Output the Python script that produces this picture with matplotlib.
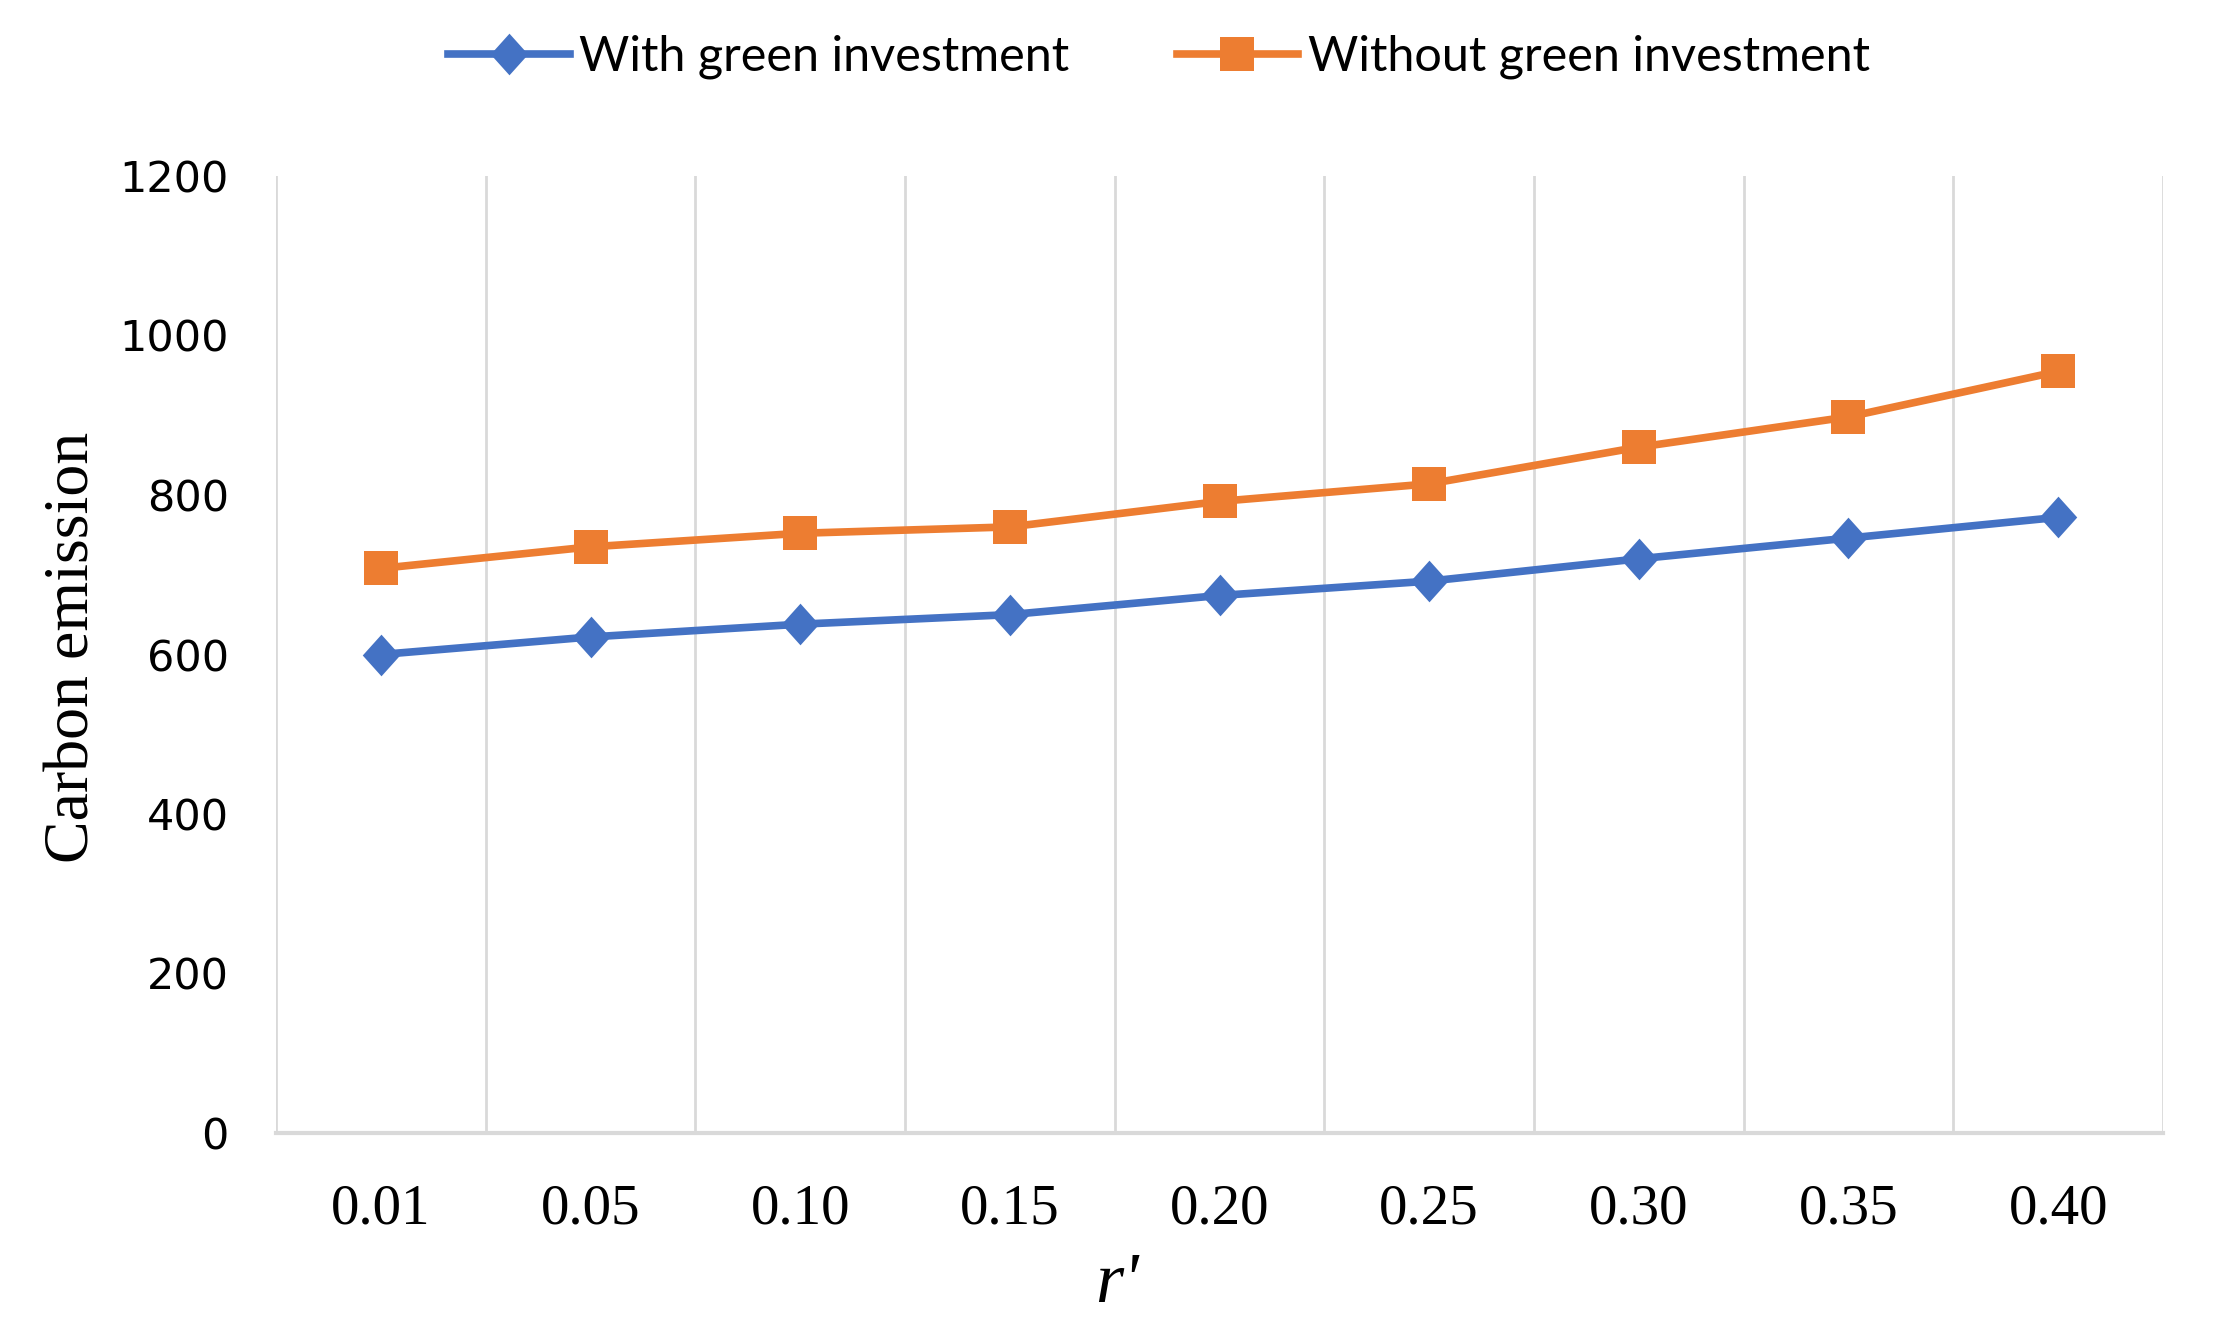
import numpy as np
import matplotlib.pyplot as plt

# data
r_labels = ["0.01", "0.05", "0.10", "0.15", "0.20", "0.25", "0.30", "0.35", "0.40"]
with_green = [600, 622, 638, 650, 674, 692, 720, 746, 772]
without_green = [708, 735, 752, 760, 792, 814, 860, 898, 955]
y_ticks = [0, 200, 400, 600, 800, 1000, 1200]

blue = "#4472C4"
orange = "#ED7D31"
grid_col = "#D9D9D9"

W, H = 2221, 1332
fig = plt.figure(figsize=(W / 100, H / 100), dpi=100)
ax = fig.add_axes([276 / W, 1 - 1133 / H, (2163 - 276) / W, (1133 - 176) / H])

x = np.arange(len(r_labels))
diamond = [(0, 1), (0.9, 0), (0, -1), (-0.9, 0), (0, 1)]

ax.plot(x, with_green, color=blue, lw=5.5, marker=diamond, ms=30, mew=0,
        label="With green investment", zorder=3)
ax.plot(x, without_green, color=orange, lw=5.5, marker="s", ms=24, mew=0,
        label="Without green investment", zorder=3)

# vertical gridlines between categories
ax.set_xlim(-0.5, len(r_labels) - 0.5)
ax.set_ylim(0, 1200)
for gx in np.arange(-0.5, len(r_labels), 1.0):
    ax.axvline(gx, color=grid_col, lw=2, zorder=1)

for s in ["top", "left", "right"]:
    ax.spines[s].set_visible(False)
ax.spines["bottom"].set_color(grid_col)
ax.spines["bottom"].set_linewidth(3)

ax.set_xticks(x)
ax.set_xticklabels(r_labels, fontfamily="Liberation Serif", fontsize=41)
ax.set_yticks(y_ticks)
ax.set_yticklabels([str(v) for v in y_ticks], fontfamily="DejaVu Sans", fontsize=31)
ax.tick_params(axis="x", length=0, pad=36)
ax.tick_params(axis="y", length=0, pad=34)

fig.text(74 / W, 1 - 647 / H, "Carbon emission", rotation=90, ha="center", va="center",
         fontfamily="Liberation Serif", fontsize=46)
fig.text(1117 / W, 1 - 1284 / H, "r'", ha="center", va="center",
         fontfamily="Liberation Serif", style="italic", fontsize=52)

fig.legend(loc="center", bbox_to_anchor=(1159 / W, 1 - 57 / H), ncol=2, frameon=False,
           prop={"family": "Lato", "size": 35}, handlelength=2.5, handletextpad=0.2,
           columnspacing=2.2)

fig.savefig("out.png", dpi=100)
